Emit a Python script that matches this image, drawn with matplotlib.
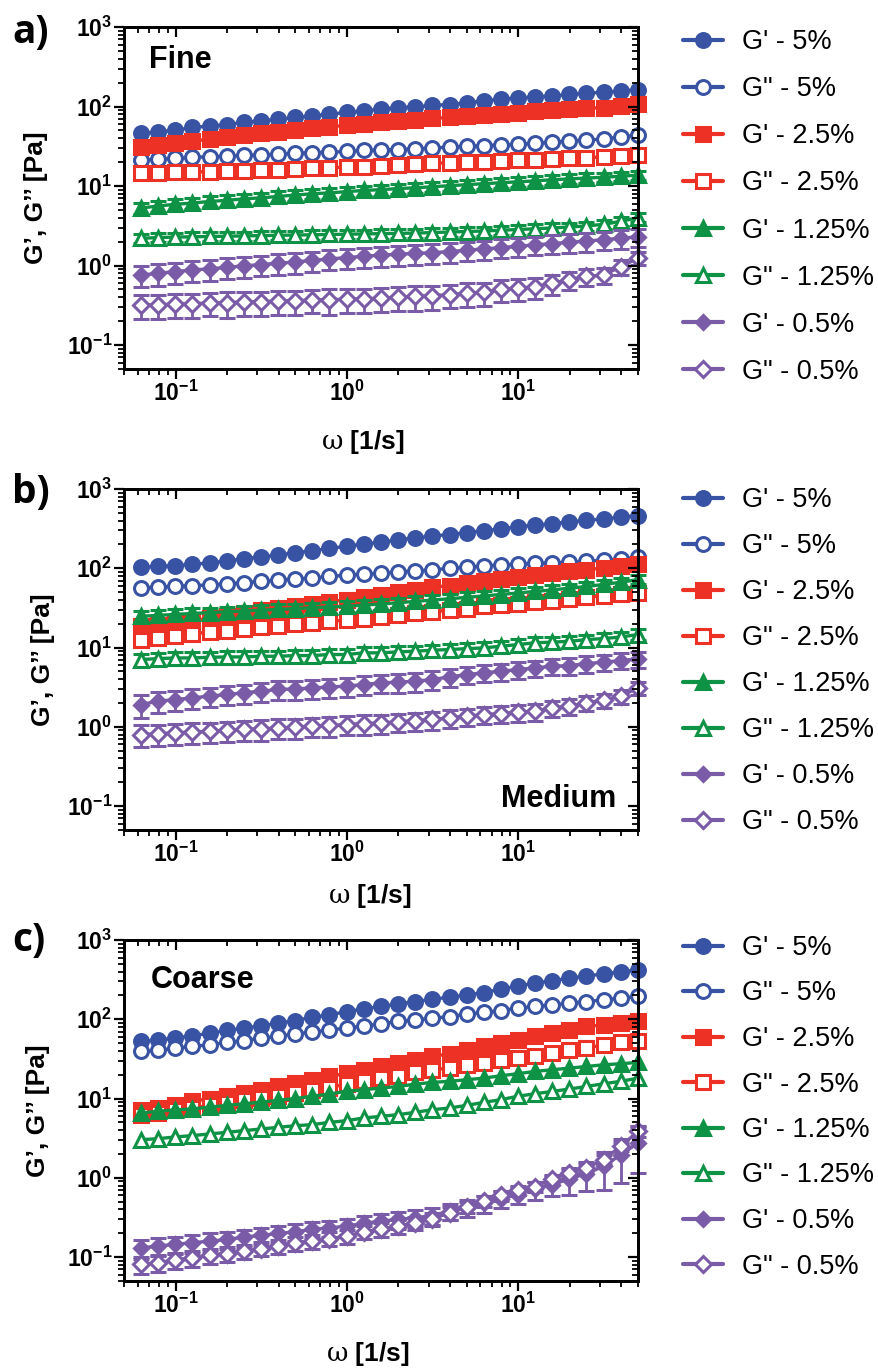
import numpy as np
import matplotlib
matplotlib.use("Agg")
import matplotlib.pyplot as plt
from matplotlib.lines import Line2D
from matplotlib.ticker import LogLocator, NullFormatter

plt.rcParams['font.family'] = ['Liberation Sans', 'DejaVu Sans']
plt.rcParams['mathtext.fontset'] = 'custom'
plt.rcParams['mathtext.rm'] = 'Liberation Sans:bold'
plt.rcParams['mathtext.bf'] = 'Liberation Sans:bold'
plt.rcParams['mathtext.it'] = 'DejaVu Serif'

# frecuencia angular [1/s]
w = [0.0628, 0.0791, 0.0996, 0.125, 0.158, 0.199, 0.25, 0.315, 0.397, 0.5,
     0.628, 0.791, 0.996, 1.25, 1.58, 1.99, 2.5, 3.15, 3.97, 5.0,
     6.28, 7.91, 9.96, 12.5, 15.8, 19.9, 25.0, 31.5, 39.7, 50.0]

# ---- a) Fine ----
a_gp5 = [45.8, 48.1, 50.4, 54.5, 56.6, 59.4, 63.0, 66.1, 69.3, 72.8, 76.4, 80.2, 84.1, 88.3, 92.7,
         97.1, 99.1, 103, 106, 111, 118, 124, 128, 132, 136, 142, 147, 151, 157, 163]
a_gpp5 = [21.2, 21.6, 22.2, 22.9, 23.4, 23.8, 24.3, 24.6, 25.2, 25.8, 26.3, 26.6, 27.2, 28.0, 28.5,
          28.8, 29.4, 30.0, 31.0, 31.6, 32.1, 33.0, 33.3, 34.4, 35.5, 36.8, 37.8, 39.0, 41.6, 43.7]
a_gp25 = [31.2, 33.0, 34.5, 36.5, 39.0, 41.6, 43.5, 46.0, 48.5, 50.5, 53.0, 55.5, 58.3, 61.0, 63.0,
          65.5, 68.0, 70.7, 73.0, 75.5, 77.8, 81.0, 84.0, 87.0, 90.0, 93.0, 95.0, 97.0, 102, 107]
a_gpp25 = [14.4, 14.6, 14.8, 15.0, 15.2, 15.4, 15.6, 15.9, 16.1, 16.4, 16.7, 17.0, 17.3, 17.6, 18.0,
           18.4, 18.8, 19.3, 19.6, 20.0, 20.3, 20.7, 21.0, 21.4, 21.8, 22.2, 22.7, 23.2, 23.8, 24.5]
a_gp125 = [5.3, 5.6, 5.9, 6.1, 6.4, 6.6, 6.9, 7.1, 7.4, 7.7, 8.0, 8.2, 8.5, 8.8, 9.0,
           9.3, 9.5, 9.8, 10.1, 10.4, 10.7, 11.0, 11.3, 11.6, 12.0, 12.3, 12.6, 12.9, 13.3, 13.7]
a_gp125_sd = [0.9, 0.9, 1.0, 1.0, 1.0, 1.1, 1.1, 1.1, 1.2, 1.2, 1.2, 1.3, 1.3, 1.3, 1.4,
              1.4, 1.4, 1.5, 1.5, 1.5, 1.6, 1.6, 1.6, 1.7, 1.7, 1.7, 1.8, 1.8, 1.8, 1.9]
a_gpp125 = [2.20, 2.25, 2.28, 2.30, 2.32, 2.34, 2.36, 2.38, 2.40, 2.42, 2.44, 2.46, 2.48, 2.50, 2.52,
            2.54, 2.56, 2.60, 2.64, 2.68, 2.72, 2.78, 2.84, 2.90, 2.97, 3.05, 3.15, 3.30, 3.60, 4.00]
a_gpp125_sd = [0.30, 0.30, 0.30, 0.31, 0.31, 0.31, 0.32, 0.32, 0.32, 0.33, 0.33, 0.33, 0.34, 0.34, 0.34,
               0.35, 0.35, 0.36, 0.36, 0.37, 0.37, 0.38, 0.39, 0.40, 0.41, 0.42, 0.43, 0.45, 0.48, 0.52]
a_gp05 = [0.76, 0.80, 0.84, 0.88, 0.91, 0.95, 0.99, 1.03, 1.07, 1.11, 1.16, 1.21, 1.26, 1.31, 1.35,
          1.39, 1.42, 1.45, 1.50, 1.56, 1.62, 1.68, 1.75, 1.82, 1.89, 1.96, 2.03, 2.12, 2.20, 2.31]
a_gp05_sd = [0.23, 0.24, 0.25, 0.26, 0.27, 0.28, 0.29, 0.30, 0.31, 0.32, 0.33, 0.34, 0.36, 0.37, 0.38,
             0.39, 0.40, 0.41, 0.42, 0.43, 0.44, 0.45, 0.47, 0.48, 0.50, 0.52, 0.54, 0.56, 0.58, 0.60]
a_gpp05 = [0.32, 0.32, 0.33, 0.33, 0.34, 0.34, 0.35, 0.35, 0.36, 0.36, 0.37, 0.37, 0.38, 0.38, 0.39,
           0.40, 0.41, 0.42, 0.43, 0.45, 0.46, 0.50, 0.52, 0.54, 0.60, 0.66, 0.73, 0.76, 0.97, 1.24]
a_gpp05_sd = [0.11, 0.11, 0.11, 0.11, 0.11, 0.12, 0.12, 0.12, 0.12, 0.12, 0.12, 0.13, 0.13, 0.13, 0.13,
              0.13, 0.14, 0.14, 0.14, 0.15, 0.15, 0.15, 0.16, 0.16, 0.17, 0.17, 0.18, 0.18, 0.20, 0.22]

# ---- b) Medium ----
b_gp5 = [103, 106, 108, 112, 117, 124, 132, 139, 147, 157, 167, 178, 190, 202, 214,
         228, 242, 256, 266, 282, 298, 314, 334, 350, 366, 386, 402, 420, 442, 460]
b_gpp5 = [56.5, 58.1, 59.2, 60.5, 61.6, 63.8, 66.0, 68.4, 71.0, 73.2, 75.5, 78.8, 82.0, 84.3, 86.8,
          89.8, 92.9, 95.5, 100, 103, 107, 110, 113, 115, 117, 119, 123, 126, 131, 138]
b_gp25 = [18.6, 19.5, 20.5, 21.9, 23.6, 25.3, 27.4, 29.6, 31.6, 33.2, 35.5, 37.6, 40.3, 43.5, 46.6,
          49.8, 53.8, 57.7, 60.5, 64.5, 69.0, 72.4, 78.0, 83.0, 86.0, 91.3, 95.7, 101, 106, 114]
b_gpp25 = [12.6, 13.2, 13.9, 15.0, 15.6, 16.4, 17.2, 18.0, 18.9, 19.7, 20.5, 21.5, 22.1, 23.2, 24.4,
           25.6, 26.9, 28.2, 29.6, 31.0, 33.2, 34.5, 35.9, 37.3, 39.1, 41.0, 43.1, 45.2, 47.5, 48.8]
b_gp125 = [24.8, 25.5, 26.2, 26.9, 27.6, 28.3, 29.0, 29.6, 30.3, 31.0, 31.8, 32.5, 33.2, 34.3, 35.5,
           36.8, 38.2, 39.7, 41.3, 43.0, 44.8, 46.7, 48.8, 51.0, 53.4, 56.0, 59.0, 62.5, 66.8, 72.0]
b_gp125_sd = [4.0, 4.1, 4.2, 4.3, 4.4, 4.5, 4.6, 4.7, 4.8, 4.9, 5.0, 5.1, 5.2, 5.4, 5.5,
              5.7, 5.9, 6.1, 6.3, 6.5, 6.7, 6.9, 7.1, 7.3, 7.5, 7.8, 8.1, 8.4, 8.8, 9.2]
b_gpp125 = [7.06, 7.26, 7.40, 7.40, 7.55, 7.62, 7.62, 7.77, 7.77, 7.93, 7.93, 8.17, 8.17, 8.58, 8.58,
            8.82, 9.00, 9.26, 9.44, 9.70, 9.90, 10.4, 10.9, 11.5, 11.7, 12.0, 12.6, 13.0, 13.6, 14.6]
b_gpp125_sd = [1.3, 1.3, 1.3, 1.3, 1.3, 1.4, 1.4, 1.4, 1.4, 1.4, 1.4, 1.5, 1.5, 1.5, 1.5,
               1.6, 1.6, 1.6, 1.7, 1.7, 1.7, 1.8, 1.8, 1.9, 1.9, 2.0, 2.0, 2.1, 2.2, 2.3]
b_gp05 = [1.91, 2.11, 2.21, 2.32, 2.44, 2.56, 2.69, 2.82, 2.96, 3.01, 3.10, 3.19, 3.26, 3.42, 3.59,
          3.66, 3.77, 3.95, 4.27, 4.57, 4.80, 5.03, 5.28, 5.54, 5.82, 5.93, 6.29, 6.53, 6.86, 7.20]
b_gp05_sd = [0.60, 0.62, 0.64, 0.66, 0.68, 0.70, 0.72, 0.75, 0.78, 0.80, 0.83, 0.86, 0.89, 0.92, 0.95,
             0.98, 1.01, 1.05, 1.09, 1.13, 1.17, 1.21, 1.25, 1.30, 1.35, 1.40, 1.45, 1.50, 1.56, 1.62]
b_gpp05 = [0.80, 0.82, 0.84, 0.86, 0.88, 0.90, 0.93, 0.94, 0.97, 0.99, 1.02, 1.04, 1.07, 1.10, 1.12,
           1.16, 1.20, 1.24, 1.30, 1.36, 1.43, 1.47, 1.53, 1.57, 1.74, 1.82, 2.01, 2.17, 2.44, 3.10]
b_gpp05_sd = [0.24, 0.24, 0.25, 0.25, 0.25, 0.26, 0.26, 0.27, 0.27, 0.28, 0.28, 0.29, 0.29, 0.30, 0.30,
              0.31, 0.31, 0.32, 0.33, 0.34, 0.35, 0.36, 0.37, 0.38, 0.40, 0.42, 0.44, 0.46, 0.50, 0.55]

# ---- c) Coarse ----
c_gp5 = [52.5, 55.1, 57.8, 61.9, 66.8, 72.2, 77.3, 82.7, 89.3, 96.5, 106, 114, 125, 135, 145,
         156, 167, 179, 190, 203, 217, 239, 264, 285, 307, 329, 352, 373, 399, 419]
c_gpp5 = [39.3, 40.4, 43.3, 45.4, 47.7, 51.0, 54.0, 57.8, 60.7, 65.6, 68.9, 73.6, 77.3, 82.7, 87.6,
          93.8, 98.4, 103, 108, 116, 122, 129, 138, 145, 152, 160, 167, 176, 185, 194]
c_gp25 = [7.10, 7.60, 8.37, 9.22, 9.96, 10.9, 11.7, 12.9, 14.2, 15.7, 17.3, 19.0, 20.9, 23.1, 25.4,
          28.0, 30.8, 34.0, 36.7, 40.4, 45.4, 50.0, 55.1, 60.7, 66.8, 73.6, 81.1, 85.1, 89.3, 96.5]
c_gpp25 = [6.26, 6.58, 7.10, 7.60, 8.21, 8.78, 9.49, 10.2, 10.9, 11.7, 12.7, 13.6, 15.4, 16.5, 18.1,
           19.4, 21.4, 23.1, 24.2, 26.2, 28.0, 30.3, 32.4, 34.7, 37.4, 40.4, 43.3, 47.7, 51.0, 54.0]
c_gp125 = [6.58, 6.90, 7.20, 7.40, 7.80, 8.20, 8.60, 9.00, 9.50, 10.0, 10.7, 11.4, 12.4, 12.9, 13.6,
           14.2, 15.2, 16.0, 16.5, 17.3, 18.1, 19.4, 20.6, 22.0, 23.1, 24.2, 25.4, 26.7, 27.5, 28.6]
c_gpp125 = [3.03, 3.12, 3.28, 3.41, 3.58, 3.75, 3.94, 4.13, 4.34, 4.55, 4.69, 5.01, 5.26, 5.69, 5.97,
            6.27, 6.70, 7.24, 7.60, 8.21, 8.95, 9.68, 10.7, 11.5, 12.3, 13.2, 14.2, 15.4, 16.5, 18.1]
c_gp05 = [0.131, 0.138, 0.145, 0.152, 0.159, 0.167, 0.179, 0.188, 0.199, 0.209, 0.224, 0.234, 0.246, 0.266, 0.285,
          0.299, 0.313, 0.335, 0.380, 0.419, 0.475, 0.543, 0.616, 0.713, 0.824, 0.971, 1.13, 1.40, 1.96, 2.75]
c_gp05_sd = [0.035, 0.036, 0.037, 0.038, 0.040, 0.041, 0.043, 0.045, 0.047, 0.049, 0.052, 0.055, 0.058, 0.062, 0.066,
             0.070, 0.075, 0.080, 0.090, 0.10, 0.11, 0.13, 0.15, 0.18, 0.23, 0.36, 0.45, 0.69, 1.10, 1.60]
c_gpp05 = [0.081, 0.085, 0.092, 0.098, 0.105, 0.111, 0.119, 0.128, 0.138, 0.149, 0.159, 0.171, 0.184, 0.207, 0.224,
           0.246, 0.271, 0.304, 0.362, 0.431, 0.508, 0.599, 0.699, 0.769, 0.971, 1.16, 1.33, 1.70, 2.50, 3.87]
c_gpp05_sd = [0.020, 0.020, 0.021, 0.022, 0.023, 0.024, 0.025, 0.026, 0.028, 0.030, 0.032, 0.034, 0.036, 0.040, 0.044,
              0.048, 0.053, 0.058, 0.065, 0.072, 0.080, 0.090, 0.10, 0.11, 0.13, 0.15, 0.18, 0.22, 0.30, 0.60]

etiquetas = ["G' - 5%", 'G" - 5%', "G' - 2.5%", 'G" - 2.5%',
             "G' - 1.25%", 'G" - 1.25%', "G' - 0.5%", 'G" - 0.5%']
AZUL, ROJO, VERDE, MORADO = '#3953a4', '#ed3124', '#0e9245', '#7a5ba7'
colores = [AZUL, AZUL, ROJO, ROJO, VERDE, VERDE, MORADO, MORADO]
marcadores = ['o', 'o', 's', 's', '^', '^', 'D', 'D']
rellenos = [True, False, True, False, True, False, True, False]
tamanos = [10, 10, 9.5, 9.5, 10, 10, 7, 8]

x_ticks = [0.1, 1, 10]
x_labels = [r'$\mathbf{10^{-1}}$', r'$\mathbf{10^{0}}$', r'$\mathbf{10^{1}}$']
y_ticks = [0.1, 1, 10, 100, 1000]
y_labels = [r'$\mathbf{10^{-1}}$', r'$\mathbf{10^{0}}$', r'$\mathbf{10^{1}}$',
            r'$\mathbf{10^{2}}$', r'$\mathbf{10^{3}}$']

W, H = 879, 1369
fig = plt.figure(figsize=(W / 100, H / 100), dpi=100)


def ejes(top, bottom):
    return fig.add_axes([124 / W, 1 - bottom / H, 514 / W, (bottom - top) / H])


def formato(ax, xlab_pos, ylab_x):
    ax.set_xscale('log')
    ax.set_yscale('log')
    ax.set_xlim(0.05, 50)
    ax.set_ylim(0.05, 1000)
    ax.set_xticks(x_ticks, x_labels)
    ax.set_yticks(y_ticks, y_labels)
    for eje in (ax.xaxis, ax.yaxis):
        eje.set_minor_locator(LogLocator(base=10, subs=(2, 3, 4, 5, 6, 7, 8, 9), numticks=20))
        eje.set_minor_formatter(NullFormatter())
    ax.tick_params(which='major', direction='out', length=7, width=1.6, labelsize=16.5, pad=1.5)
    ax.tick_params(which='minor', direction='out', length=4, width=1.3)
    for s in ax.spines.values():
        s.set_linewidth(1.8)
    # ticks hacia adentro arriba y a la derecha
    axr = ax.twinx()
    axr.set_yscale('log')
    axr.set_ylim(0.05, 1000)
    axr.set_yticks(y_ticks)
    axr.yaxis.set_minor_locator(LogLocator(base=10, subs=(2, 3, 4, 5, 6, 7, 8, 9), numticks=20))
    axr.tick_params(axis='y', which='major', direction='in', length=7, width=1.6, labelright=False)
    axr.tick_params(axis='y', which='minor', direction='in', length=4, width=1.3, labelright=False)
    axt = ax.twiny()
    axt.set_xscale('log')
    axt.set_xlim(0.05, 50)
    axt.set_xticks(x_ticks)
    axt.xaxis.set_minor_locator(LogLocator(base=10, subs=(2, 3, 4, 5, 6, 7, 8, 9), numticks=20))
    axt.tick_params(axis='x', which='major', direction='in', length=7, width=1.6, labeltop=False)
    axt.tick_params(axis='x', which='minor', direction='in', length=4, width=1.3, labeltop=False)
    for a in (axr, axt):
        for s in a.spines.values():
            s.set_linewidth(1.8)
    ax.set_xlabel(r'$\omega$ [1/s]', fontsize=19, fontweight='bold')
    ax.xaxis.set_label_coords(*xlab_pos)
    ax.set_ylabel('G’, G’’ [Pa]', fontsize=19, fontweight='bold')
    ax.yaxis.set_label_coords(ylab_x, 0.5)


def curvas(ax, series, errores):
    for k in range(8):
        mfc = colores[k] if rellenos[k] else 'white'
        ax.errorbar(w, series[k], yerr=errores[k], color=colores[k], marker=marcadores[k],
                    ms=tamanos[k], mfc=mfc, mec=colores[k], mew=2.2, lw=2.4,
                    elinewidth=2.0, capsize=6, capthick=2.0, clip_on=False, zorder=3 + k)


def leyenda(ax, top, spacing):
    handles = []
    for k in range(8):
        mfc = colores[k] if rellenos[k] else 'white'
        handles.append(Line2D([], [], color=colores[k], lw=3, marker=marcadores[k],
                              ms=tamanos[k], mfc=mfc, mec=colores[k], mew=2.2,
                              solid_capstyle='round'))
    ax.legend(handles, etiquetas, loc='upper left', bbox_to_anchor=(683 / W, 1 - top / H),
              bbox_transform=fig.transFigure, frameon=False, fontsize=19.5,
              handlelength=1.48, handletextpad=0.7, labelspacing=spacing,
              borderpad=0, borderaxespad=0)


# a) Fine
ax1 = ejes(27, 369)
curvas(ax1, [a_gp5, a_gpp5, a_gp25, a_gpp25, a_gp125, a_gpp125, a_gp05, a_gpp05],
       [None, None, None, None, a_gp125_sd, a_gpp125_sd, a_gp05_sd, a_gpp05_sd])
formato(ax1, (0.464, -0.173), -0.148)
leyenda(ax1, 29, 0.78)
ax1.text(0.049, 0.88, 'Fine', transform=ax1.transAxes, fontsize=22, fontweight='bold', va='baseline')

# b) Medium
ax2 = ejes(489, 830)
curvas(ax2, [b_gp5, b_gpp5, b_gp25, b_gpp25, b_gp125, b_gpp125, b_gp05, b_gpp05],
       [None, None, None, None, b_gp125_sd, b_gpp125_sd, b_gp05_sd, b_gpp05_sd])
formato(ax2, (0.479, -0.152), -0.134)
leyenda(ax2, 487, 0.74)
ax2.text(0.957, 0.067, 'Medium', transform=ax2.transAxes, fontsize=22, fontweight='bold',
         va='baseline', ha='right')

# c) Coarse
ax3 = ejes(940, 1281)
curvas(ax3, [c_gp5, c_gpp5, c_gp25, c_gpp25, c_gp125, c_gpp125, c_gp05, c_gpp05],
       [None, None, None, None, None, None, c_gp05_sd, c_gpp05_sd])
formato(ax3, (0.474, -0.173), -0.144)
leyenda(ax3, 935, 0.72)
ax3.text(0.0525, 0.859, 'Coarse', transform=ax3.transAxes, fontsize=22, fontweight='bold', va='baseline')

# letras de cada panel
for letra, yc in (('a)', 33), ('b)', 492), ('c)', 940)):
    fig.text(12 / W, 1 - yc / H, letra, fontsize=28, fontweight='bold', family='Open Sans', va='center')

fig.savefig('out.png', dpi=100)
